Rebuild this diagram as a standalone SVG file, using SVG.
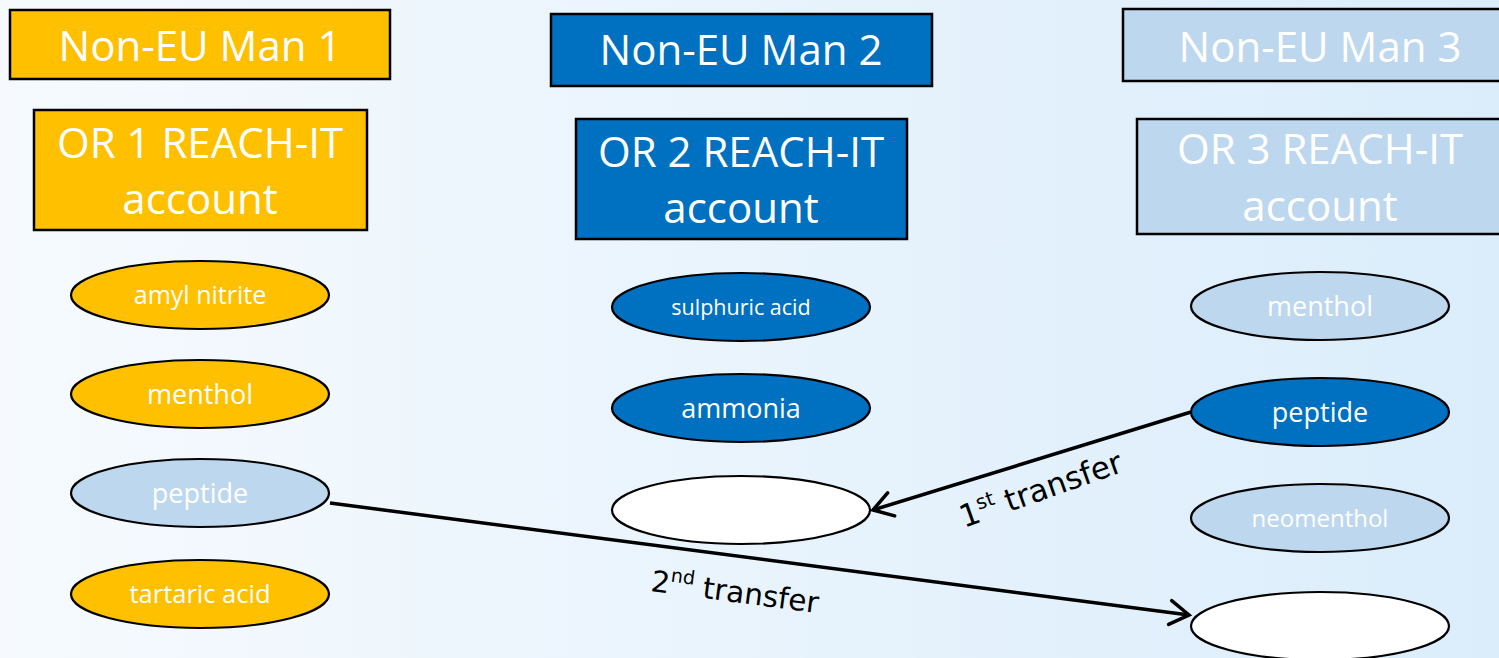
<svg xmlns="http://www.w3.org/2000/svg" width="1499" height="658" viewBox="0 0 1499 658">
<defs>
<linearGradient id="bg" x1="0" y1="0" x2="1" y2="0">
<stop offset="0" stop-color="#f6fafe"/>
<stop offset="1" stop-color="#dbedfb"/>
</linearGradient>
<marker id="chev" markerUnits="userSpaceOnUse" markerWidth="40" markerHeight="40" viewBox="-30 -20 40 40" refX="0" refY="0" orient="auto">
<path d="M-19,-12 L0,0 L-19,12" fill="none" stroke="#000" stroke-width="3.5" stroke-linecap="round" stroke-linejoin="miter"/>
</marker>
<style>
.box{stroke:#000;stroke-width:2.5}
.ell{stroke:#000;stroke-width:2.2}
.gold{fill:#FFC000}
.blue{fill:#0070C0}
.light{fill:#BDD7EE}
.white{fill:#ffffff}
.bt{font-family:"Open Sans","Liberation Sans",sans-serif;font-size:42px;fill:#fff;text-anchor:middle}
.et{font-family:"Open Sans","Liberation Sans",sans-serif;font-size:27px;fill:#fff;text-anchor:middle}
.lbl{font-family:"DejaVu Sans",sans-serif;font-size:29.5px;fill:#000}
.conn{fill:none;stroke:#000;stroke-width:3.5;marker-end:url(#chev)}
</style>
</defs>
<rect width="1499" height="658" fill="url(#bg)"/>

<g id="man1"><rect class="box gold" x="10" y="10" width="380" height="69"/><text class="bt" x="200" y="61">Non-EU Man 1</text></g>
<g id="or1"><rect class="box gold" x="34" y="110" width="333" height="120"/><text class="bt" x="200" y="158">OR 1 REACH-IT</text><text class="bt" x="200" y="214">account</text></g>
<g id="man2"><rect class="box blue" x="551" y="14" width="381" height="72"/><text class="bt" x="741" y="65">Non-EU Man 2</text></g>
<g id="or2"><rect class="box blue" x="576" y="119" width="331" height="120"/><text class="bt" x="741" y="167">OR 2 REACH-IT</text><text class="bt" x="741" y="223">account</text></g>
<g id="man3"><rect class="box light" x="1123" y="9" width="394" height="72"/><text class="bt" x="1320" y="62">Non-EU Man 3</text></g>
<g id="or3"><rect class="box light" x="1137" y="119" width="366" height="115"/><text class="bt" x="1320" y="164">OR 3 REACH-IT</text><text class="bt" x="1320" y="221">account</text></g>

<g id="c1-amyl"><ellipse class="ell gold" cx="200" cy="295" rx="129" ry="34"/><text class="et" x="200" y="304" style="font-size:25px">amyl nitrite</text></g>
<g id="c1-menthol"><ellipse class="ell gold" cx="200" cy="394" rx="129" ry="34"/><text class="et" x="200" y="404">menthol</text></g>
<g id="c1-peptide"><ellipse class="ell light" cx="200" cy="493" rx="129" ry="34"/><text class="et" x="200" y="503">peptide</text></g>
<g id="c1-tartaric"><ellipse class="ell gold" cx="200" cy="594" rx="129" ry="34"/><text class="et" x="200" y="603" style="font-size:25.5px">tartaric acid</text></g>

<g id="c2-sulphuric"><ellipse class="ell blue" cx="741" cy="307" rx="129" ry="34"/><text class="et" x="741" y="315" style="font-size:21.5px">sulphuric acid</text></g>
<g id="c2-ammonia"><ellipse class="ell blue" cx="741" cy="408" rx="129" ry="34"/><text class="et" x="741" y="418">ammonia</text></g>
<g id="c2-blank"><ellipse class="ell white" cx="741" cy="510" rx="129" ry="34"/></g>

<g id="c3-menthol"><ellipse class="ell light" cx="1320" cy="306" rx="129" ry="34"/><text class="et" x="1320" y="316">menthol</text></g>
<g id="c3-peptide"><ellipse class="ell blue" cx="1320" cy="412" rx="129" ry="34"/><text class="et" x="1320" y="422">peptide</text></g>
<g id="c3-neomenthol"><ellipse class="ell light" cx="1320" cy="518" rx="129" ry="34"/><text class="et" x="1320" y="527" style="font-size:24px">neomenthol</text></g>
<g id="c3-blank"><ellipse class="ell white" cx="1320" cy="626" rx="129" ry="34"/></g>

<g id="connectors">
<path class="conn" d="M1191,412 L873,510"/>
<path class="conn" d="M330,503 L1189,615"/>
<text class="lbl" transform="translate(964,528) rotate(-19.5)" style="font-size:31px">1<tspan font-size="20" dy="-12">st</tspan><tspan dy="12"> transfer</tspan></text>
<text class="lbl" transform="translate(650,591) rotate(7.5)">2<tspan font-size="19" dy="-12">nd</tspan><tspan dy="12"> transfer</tspan></text>
</g>
</svg>
